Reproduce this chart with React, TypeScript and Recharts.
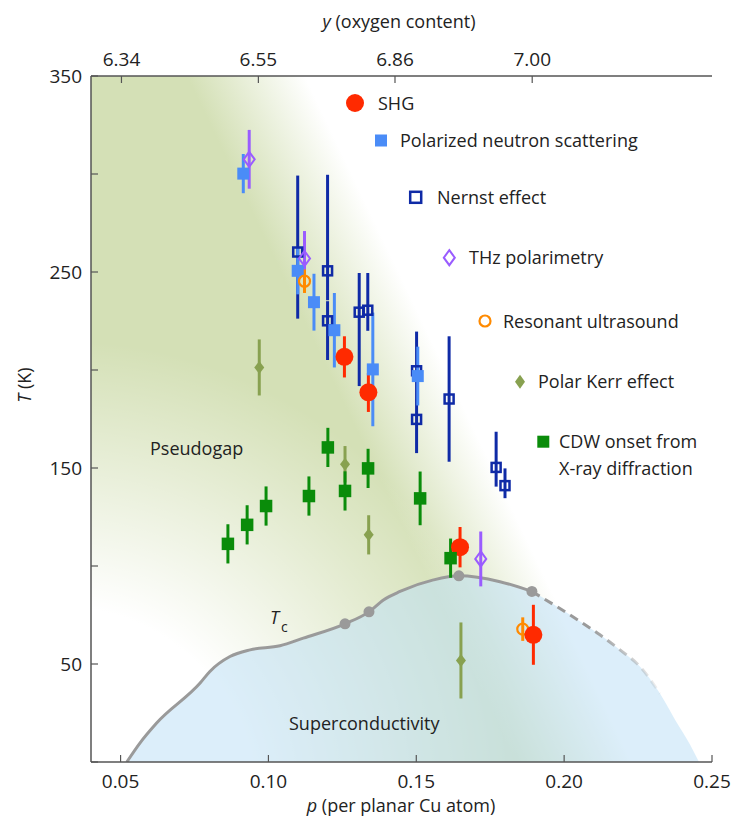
import React from "react";
import { ComposedChart, XAxis, YAxis, Area, Line, Scatter, ErrorBar } from "recharts";

// axes
const pTicks = [0.05, 0.1, 0.15, 0.2, 0.25];
const tTicks = [0, 50, 100, 150, 200, 250, 300, 350];
const oxygenLabels = ["6.34", "6.55", "6.86", "7.00"];
const oxygenAtP = [0.0503, 0.0966, 0.1428, 0.1892];

// SHG
const shgP = [0.1257, 0.1338, 0.1648, 0.1896];
const shgT = [206.7, 188.6, 109.6, 64.9];
const shgErr = [10.5, 10, 10.3, 15.3];

// polarized neutron scattering
const pnsP = [0.0915, 0.1099, 0.1154, 0.1223, 0.1353, 0.1505];
const pnsT = [300.2, 250.6, 234.6, 220.3, 200.3, 196.9];
const pnsErr = [10, 12, 14.5, 19, 29, 15];

// Nernst effect, [below, above]
const nernstP = [0.1099, 0.12, 0.12, 0.1307, 0.1336, 0.1501, 0.1501, 0.1611, 0.177, 0.18];
const nernstT = [260.2, 250.6, 225.1, 229.5, 230.5, 199.6, 174.8, 185.2, 150.3, 141];
const nernstErr = [[34, 39], [15, 49], [20, 10], [37.7, 20], [10.5, 19], [15, 20], [17.2, 10], [32, 32], [9.8, 18.2], [6.4, 8.8]];

// THz polarimetry
const thzP = [0.0935, 0.1122, 0.1718];
const thzT = [307.5, 256.9, 103.6];
const thzErr = [15, 14, 14];

// resonant ultrasound
const rusP = [0.1122, 0.186];
const rusT = [245.3, 67.8];
const rusErr = [6, 6];

// polar Kerr effect
const kerrP = [0.0969, 0.1259, 0.1339, 0.1651];
const kerrT = [201.3, 151.9, 115.9, 51.8];
const kerrErr = [14.3, 9.3, 10, 19.4];

// CDW onset
const cdwP = [0.0863, 0.0928, 0.0992, 0.1137, 0.1201, 0.1259, 0.1337, 0.1513, 0.1616];
const cdwT = [111.3, 121, 130.6, 135.7, 160.5, 138.3, 149.8, 134.5, 104];
const cdwErr = [10, 10, 10, 10, 10, 10, 10, 13.7, 10];

// Tc dome
const tcDotP = [0.1259, 0.134, 0.1644, 0.1891];
const tcDotT = [70.5, 76.6, 95, 87];
const tcSolidP = [0.0521, 0.0566, 0.0622, 0.0769, 0.0802, 0.087, 0.0938, 0.1039, 0.1118, 0.1259, 0.134, 0.1389, 0.1445, 0.1558, 0.1644, 0.1783, 0.1891];
const tcSolidT = [0, 9.8, 19.9, 40.3, 46.2, 53.8, 57.2, 59.3, 63.2, 70.5, 76.6, 82.7, 87, 92.9, 95, 92, 87];
const tcDashP = [0.1891, 0.1975, 0.2054, 0.2121, 0.2189, 0.2257, 0.2324];
const tcDashT = [87, 79.3, 71.7, 64.9, 57.2, 48.6, 34.9];
const domeTailP = [0.2375, 0.2426, 0.2456];
const domeTailT = [21.6, 8.8, 0];

// background rectangle
const bgP = [0.04, 0.25];
const bgT = [350, 350];

const pts = (p: number[], t: number[], e?: any[]) =>
  p.map((x, i) => ({ p: x, T: t[i], e: e ? e[i] : 0 }));

const shgData = pts(shgP, shgT, shgErr);
const pnsData = pts(pnsP, pnsT, pnsErr);
const nernstData = pts(nernstP, nernstT, nernstErr);
const thzData = pts(thzP, thzT, thzErr);
const rusData = pts(rusP, rusT, rusErr);
const kerrData = pts(kerrP, kerrT, kerrErr);
const cdwData = pts(cdwP, cdwT, cdwErr);
const tcDots = pts(tcDotP, tcDotT);
const tcSolid = pts(tcSolidP, tcSolidT);
const tcDash = pts(tcDashP, tcDashT);
const dome = pts(
  [...tcSolidP, ...tcDashP.slice(1), ...domeTailP],
  [...tcSolidT, ...tcDashT.slice(1), ...domeTailT]
);
const bg = pts(bgP, bgT);

const C = {
  shg: "#ff2a00",
  pns: "#4a8cf7",
  nernst: "#0f2aa6",
  thz: "#9a5cff",
  rus: "#ff8a00",
  kerr: "#88a150",
  cdw: "#0a8c0a",
  tc: "#9a9a9a",
  text: "#222",
  axis: "#555",
};

const FONT = "'Open Sans', 'Noto Sans', sans-serif";

const circleShape = (r: number, color: string) => (s: any) =>
  <circle cx={s.cx} cy={s.cy} r={r} fill={color} />;
const ringShape = (r: number, color: string) => (s: any) =>
  <circle cx={s.cx} cy={s.cy} r={r} fill="none" stroke={color} strokeWidth={2.2} />;
const squareShape = (a: number, color: string) => (s: any) =>
  <rect x={s.cx - a / 2} y={s.cy - a / 2} width={a} height={a} fill={color} />;
const openSquareShape = (a: number, color: string) => (s: any) =>
  <rect x={s.cx - a / 2} y={s.cy - a / 2} width={a} height={a} fill="none" stroke={color} strokeWidth={2.5} />;
const diamondPath = (cx: number, cy: number, w: number, h: number) =>
  `M${cx},${cy - h / 2}L${cx + w / 2},${cy}L${cx},${cy + h / 2}L${cx - w / 2},${cy}Z`;
const diamondShape = (w: number, h: number, color: string) => (s: any) =>
  <path d={diamondPath(s.cx, s.cy, w, h)} fill={color} />;
const openDiamondShape = (w: number, h: number, color: string) => (s: any) =>
  <path d={diamondPath(s.cx, s.cy, w, h)} fill="none" stroke={color} strokeWidth={2} />;

const tickStyle = { fill: C.text, fontSize: 19, fontFamily: FONT };

const legendItems = [
  { label: "SHG", x: 355, y: 103, tx: 378 },
  { label: "Polarized neutron scattering", x: 381, y: 140.5, tx: 400 },
  { label: "Nernst effect", x: 415.7, y: 197.3, tx: 437 },
  { label: "THz polarimetry", x: 449.3, y: 257.7, tx: 469 },
  { label: "Resonant ultrasound", x: 485, y: 321, tx: 503 },
  { label: "Polar Kerr effect", x: 520, y: 381.7, tx: 538 },
  { label: "CDW onset from", x: 543.3, y: 441.7, tx: 559 },
];

function Overlay() {
  const s = [
    <circle key="a" cx={legendItems[0].x} cy={legendItems[0].y} r={9} fill={C.shg} />,
    <rect key="b" x={legendItems[1].x - 6} y={legendItems[1].y - 6} width={12} height={12} fill={C.pns} />,
    <rect key="c" x={legendItems[2].x - 5.5} y={legendItems[2].y - 5.5} width={11} height={11} fill="none" stroke={C.nernst} strokeWidth={2.5} />,
    <path key="d" d={diamondPath(legendItems[3].x, legendItems[3].y, 11, 15)} fill="none" stroke={C.thz} strokeWidth={2} />,
    <circle key="e" cx={legendItems[4].x} cy={legendItems[4].y} r={5.5} fill="none" stroke={C.rus} strokeWidth={2.2} />,
    <path key="f" d={diamondPath(legendItems[5].x, legendItems[5].y, 10, 14)} fill={C.kerr} />,
    <rect key="g" x={legendItems[6].x - 6} y={legendItems[6].y - 6} width={12} height={12} fill={C.cdw} />,
  ];
  return (
    <svg width={732} height={821} style={{ position: "absolute", left: 0, top: 0, pointerEvents: "none" }}>
      <g fontFamily={FONT} fill={C.text} fontSize={18}>
        {s}
        {legendItems.map((it) => (
          <text key={it.label} x={it.tx} y={it.y + 6.5}>{it.label}</text>
        ))}
        <text x={559} y={468.5 + 6.5}>X-ray diffraction</text>

        <text x={399} y={28} textAnchor="middle">
          <tspan fontStyle="italic">y</tspan> (oxygen content)
        </text>
        <text x={401} y={812} textAnchor="middle">
          <tspan fontStyle="italic">p</tspan> (per planar Cu atom)
        </text>
        <text transform="translate(31,385) rotate(-90)" textAnchor="middle">
          <tspan fontStyle="italic">T</tspan> (K)
        </text>

        <text x={150} y={455}>Pseudogap</text>
        <text x={270} y={624} fontStyle="italic">T</text>
        <text x={281} y={632} fontSize={14}>c</text>
        <text x={289} y={730}>Superconductivity</text>
      </g>
    </svg>
  );
}

export default function App() {
  return (
    <div style={{ position: "absolute", left: 0, top: 0, width: 732, height: 821, background: "#fff" }}>
      <ComposedChart width={732} height={821} margin={{ top: 46, right: 20, bottom: 9, left: 0 }}>
        <defs>
          <linearGradient id="pgFill" gradientUnits="userSpaceOnUse" x1={322} y1={358} x2={418} y2={312}>
            <stop offset="0" stopColor="#d4e0b6" stopOpacity={1} />
            <stop offset="1" stopColor="#d4e0b6" stopOpacity={0} />
          </linearGradient>
          <radialGradient id="fadeLeft" gradientUnits="userSpaceOnUse" cx={60} cy={800} r={460}>
            <stop offset="0.42" stopColor="#ffffff" stopOpacity={1} />
            <stop offset="1" stopColor="#ffffff" stopOpacity={0} />
          </radialGradient>
          <linearGradient id="dashFade" gradientUnits="userSpaceOnUse" x1={590} y1={0} x2={670} y2={0}>
            <stop offset="0" stopColor={C.tc} stopOpacity={1} />
            <stop offset="1" stopColor={C.tc} stopOpacity={0} />
          </linearGradient>
        </defs>

        <XAxis
          type="number"
          dataKey="p"
          domain={[0.04, 0.25]}
          allowDataOverflow
          ticks={pTicks}
          interval={0}
          tickFormatter={(v: number) => v.toFixed(2)}
          height={50}
          tickSize={-7}
          tickMargin={20}
          tick={tickStyle}
          axisLine={{ stroke: C.axis, strokeWidth: 1.5 }}
          tickLine={{ stroke: C.axis, strokeWidth: 1.2 }}
        />
        <XAxis
          xAxisId="top"
          orientation="top"
          type="number"
          dataKey="p"
          domain={[0.04, 0.25]}
          allowDataOverflow
          ticks={oxygenAtP}
          interval={0}
          tickFormatter={(v: number) => {
            const i = oxygenAtP.findIndex((q) => Math.abs(q - v) < 1e-6);
            return i >= 0 ? oxygenLabels[i] : "";
          }}
          height={30}
          tickSize={-7}
          tickMargin={17}
          tick={tickStyle}
          axisLine={{ stroke: C.axis, strokeWidth: 1.5 }}
          tickLine={{ stroke: C.axis, strokeWidth: 1.2 }}
        />
        <YAxis
          type="number"
          dataKey="T"
          domain={[0, 350]}
          allowDataOverflow
          ticks={tTicks}
          interval={0}
          tickFormatter={(v: number) => (v % 100 === 50 ? String(v) : "")}
          width={91}
          tickSize={-7}
          tickMargin={16}
          tick={tickStyle}
          axisLine={{ stroke: C.axis, strokeWidth: 1.5 }}
          tickLine={{ stroke: C.axis, strokeWidth: 1.2 }}
        />
        <YAxis
          yAxisId="right"
          orientation="right"
          type="number"
          domain={[0, 350]}
          width={0}
          tick={false}
          tickLine={false}
          axisLine={{ stroke: C.axis, strokeWidth: 1.5 }}
        />

        {/* pseudogap shading */}
        <Area data={bg} dataKey="T" type="linear" stroke="none" fill="url(#pgFill)" fillOpacity={1} isAnimationActive={false} />
        <Area data={bg} xAxisId="top" yAxisId="right" dataKey="T" type="linear" stroke="none" fill="url(#fadeLeft)" fillOpacity={1} isAnimationActive={false} />
        {/* superconducting dome */}
        <Area data={dome} dataKey="T" type="monotone" stroke="none" fill="#bfe0f5" fillOpacity={0.55} isAnimationActive={false} />
        <Line data={tcSolid} dataKey="T" type="monotone" stroke={C.tc} strokeWidth={3} dot={false} isAnimationActive={false} />
        <Line data={tcDash} dataKey="T" type="monotone" stroke="url(#dashFade)" strokeWidth={3} strokeDasharray="9 6" dot={false} isAnimationActive={false} />
        <Scatter data={tcDots} shape={circleShape(5.5, C.tc)} isAnimationActive={false} />

        <Scatter data={nernstData} shape={openSquareShape(9, C.nernst)} isAnimationActive={false}>
          <ErrorBar dataKey="e" direction="y" width={0} stroke={C.nernst} strokeWidth={3} isAnimationActive={false} />
        </Scatter>
        <Scatter data={pnsData} shape={squareShape(12, C.pns)} isAnimationActive={false}>
          <ErrorBar dataKey="e" direction="y" width={0} stroke={C.pns} strokeWidth={3} isAnimationActive={false} />
        </Scatter>
        <Scatter data={thzData} shape={openDiamondShape(11, 15, C.thz)} isAnimationActive={false}>
          <ErrorBar dataKey="e" direction="y" width={0} stroke={C.thz} strokeWidth={3} isAnimationActive={false} />
        </Scatter>
        <Scatter data={rusData} shape={ringShape(5.5, C.rus)} isAnimationActive={false}>
          <ErrorBar dataKey="e" direction="y" width={0} stroke={C.rus} strokeWidth={3} isAnimationActive={false} />
        </Scatter>
        <Scatter data={kerrData} shape={diamondShape(10, 13, C.kerr)} isAnimationActive={false}>
          <ErrorBar dataKey="e" direction="y" width={0} stroke={C.kerr} strokeWidth={3} isAnimationActive={false} />
        </Scatter>
        <Scatter data={shgData} shape={circleShape(9, C.shg)} isAnimationActive={false}>
          <ErrorBar dataKey="e" direction="y" width={0} stroke={C.shg} strokeWidth={3} isAnimationActive={false} />
        </Scatter>
        <Scatter data={cdwData} shape={squareShape(12.5, C.cdw)} isAnimationActive={false}>
          <ErrorBar dataKey="e" direction="y" width={0} stroke={C.cdw} strokeWidth={3} isAnimationActive={false} />
        </Scatter>
      </ComposedChart>
      <Overlay />
    </div>
  );
}
